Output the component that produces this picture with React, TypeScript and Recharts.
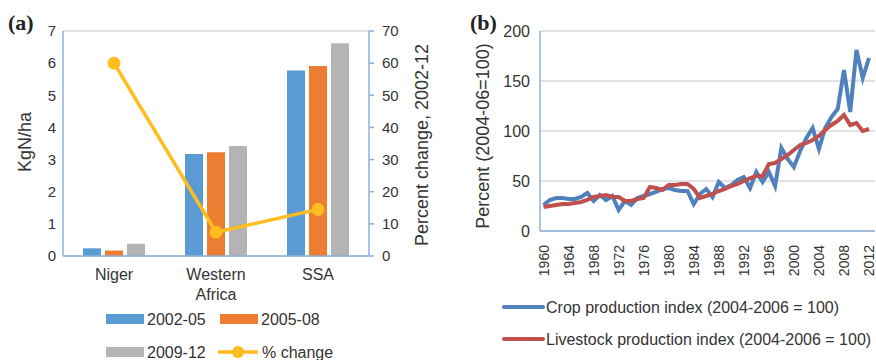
import {
  ComposedChart,
  LineChart,
  Bar,
  Line,
  XAxis,
  YAxis,
  CartesianGrid,
} from "recharts";

// Panel (a): fertilizer use, kg N per ha
const regions = ["Niger", "Western Africa", "SSA"];
const use0205 = [0.24, 3.17, 5.77];
const use0508 = [0.17, 3.23, 5.91];
const use0912 = [0.38, 3.42, 6.62];
const pctChange = [60, 7.4, 14.5];

// Panel (b): production indices, 2004-06 = 100
const years = [
  1960, 1961, 1962, 1963, 1964, 1965, 1966, 1967, 1968, 1969,
  1970, 1971, 1972, 1973, 1974, 1975, 1976, 1977, 1978, 1979,
  1980, 1981, 1982, 1983, 1984, 1985, 1986, 1987, 1988, 1989,
  1990, 1991, 1992, 1993, 1994, 1995, 1996, 1997, 1998, 1999,
  2000, 2001, 2002, 2003, 2004, 2005, 2006, 2007, 2008, 2009,
  2010, 2011, 2012,
];
const cropIndex = [
  26, 31, 33, 33, 32, 32, 34, 38, 30, 36,
  31, 35, 21, 30, 26, 33, 35, 37, 39, 42,
  43, 41, 40, 40, 27, 37, 42, 34, 49, 43,
  46, 51, 54, 43, 59, 49, 59, 45, 83, 72,
  64, 80, 93, 103, 82, 103, 114, 122, 161, 119,
  181, 153, 173,
];
const livestockIndex = [
  24, 25, 26, 27, 27, 28, 29, 31, 34, 35,
  36, 34, 34, 30, 30, 32, 33, 44, 43, 41,
  46, 46, 47, 47, 42, 33, 35, 37, 40, 42,
  45, 47, 50, 53, 55, 55, 67, 68, 72, 76,
  81, 86, 88, 91, 95, 101, 106, 110, 116, 106,
  108, 100, 102,
];
const yearTicks = [1960, 1964, 1968, 1972, 1976, 1980, 1984, 1988, 1992, 1996, 2000, 2004, 2008, 2012];

const barData = regions.map((name, i) => ({
  name,
  a: use0205[i],
  b: use0508[i],
  c: use0912[i],
  pct: pctChange[i],
}));

const lineData = years.map((year, i) => ({
  year,
  crop: cropIndex[i],
  livestock: livestockIndex[i],
}));

const FONT = "'Liberation Sans', Arial, Helvetica, sans-serif";
const TEXT = "#333";
const AXIS = "#8db0dc";
const GRID = "#d9d9d9";
const BLUE = "#5b9bd5";
const ORANGE = "#ed7d31";
const GRAY = "#b4b4b4";
const YELLOW = "#fdbd1c";
const CROP = "#4f81bd";
const LIVE = "#c0504d";

const CategoryTick = ({ x, y, payload }: any) => {
  const lines = String(payload.value).split(" ");
  return (
    <text x={x} y={y} textAnchor="middle" fontSize={16} fill={TEXT} fontFamily={FONT}>
      {lines.map((l: string, i: number) => (
        <tspan key={i} x={x} dy={i === 0 ? 22 : 20}>
          {l}
        </tspan>
      ))}
    </text>
  );
};

const YearTick = ({ x, y, payload }: any) => (
  <text
    x={x}
    y={y + 12}
    transform={`rotate(-90, ${x}, ${y + 12})`}
    textAnchor="end"
    dominantBaseline="central"
    fontSize={14}
    fill={TEXT}
    fontFamily={FONT}
  >
    {payload.value}
  </text>
);

const tickStyle = { fontSize: 15, fill: TEXT, fontFamily: FONT };

export default function App() {
  return (
    <div style={{ position: "absolute", left: 0, top: 0, width: 876, height: 360, background: "#fff", overflow: "hidden", fontFamily: FONT }}>
      {/* panel (a) */}
      <div style={{ position: "absolute", left: 0, top: 0 }}>
        <ComposedChart
          width={460}
          height={360}
          data={barData}
          margin={{ top: 31, right: 31, left: 0, bottom: 0 }}
        >
          <CartesianGrid vertical={false} stroke={GRID} strokeWidth={1.5} />
          <XAxis
            dataKey="name"
            height={104}
            axisLine={{ stroke: AXIS, strokeWidth: 1.5 }}
            tickLine={false}
            tickSize={0}
            tick={<CategoryTick />}
            interval={0}
          />
          <YAxis
            yAxisId="left"
            width={63}
            domain={[0, 7]}
            ticks={[0, 1, 2, 3, 4, 5, 6, 7]}
            axisLine={{ stroke: AXIS, strokeWidth: 1.5 }}
            tickLine={false}
            tickSize={0}
            tickMargin={7}
            tick={tickStyle}
          />
          <YAxis
            yAxisId="right"
            orientation="right"
            width={60}
            domain={[0, 70]}
            ticks={[0, 10, 20, 30, 40, 50, 60, 70]}
            axisLine={{ stroke: AXIS, strokeWidth: 1.5 }}
            tickLine={{ stroke: AXIS, strokeWidth: 1.5 }}
            tickSize={5}
            tickMargin={8}
            tick={tickStyle}
          />
          <Bar yAxisId="left" dataKey="a" fill={BLUE} barSize={18} isAnimationActive={false} />
          <Bar yAxisId="left" dataKey="b" fill={ORANGE} barSize={18} isAnimationActive={false} />
          <Bar yAxisId="left" dataKey="c" fill={GRAY} barSize={18} isAnimationActive={false} />
          <Line
            yAxisId="right"
            dataKey="pct"
            stroke={YELLOW}
            strokeWidth={3.5}
            dot={{ r: 6, fill: YELLOW, stroke: YELLOW, strokeWidth: 1 }}
            isAnimationActive={false}
          />
        </ComposedChart>
      </div>
      <svg width={876} height={360} style={{ position: "absolute", left: 0, top: 0, pointerEvents: "none" }}>
        <text x={8} y={30} fontFamily="'Liberation Serif', 'DejaVu Serif', serif" fontWeight="bold" fontSize={22} fill="#222">(a)</text>
        <text x={470} y={30} fontFamily="'Liberation Serif', 'DejaVu Serif', serif" fontWeight="bold" fontSize={22} fill="#222">(b)</text>
        <text x={25} y={142} transform="rotate(-90, 25, 142)" textAnchor="middle" dominantBaseline="central" fontSize={18} fill={TEXT} fontFamily={FONT}>KgN/ha</text>
        <text x={422} y={145} transform="rotate(-90, 422, 145)" textAnchor="middle" dominantBaseline="central" fontSize={18} fill={TEXT} fontFamily={FONT}>Percent change, 2002-12</text>
        <text x={483} y={136} transform="rotate(-90, 483, 136)" textAnchor="middle" dominantBaseline="central" fontSize={18} fill={TEXT} fontFamily={FONT}>Percent (2004-06=100)</text>
        {/* legend (a) */}
        <rect x={106} y={314} width={38} height={10} fill={BLUE} />
        <text x={147} y={325} fontSize={16} fill={TEXT} fontFamily={FONT}>2002-05</text>
        <rect x={220} y={314} width={38} height={10} fill={ORANGE} />
        <text x={261} y={325} fontSize={16} fill={TEXT} fontFamily={FONT}>2005-08</text>
        <rect x={106} y={347} width={38} height={10} fill={GRAY} />
        <text x={147} y={358} fontSize={16} fill={TEXT} fontFamily={FONT}>2009-12</text>
        <line x1={218} y1={352} x2={258} y2={352} stroke={YELLOW} strokeWidth={3.5} />
        <circle cx={238} cy={352} r={6} fill={YELLOW} />
        <text x={262} y={358} fontSize={16} fill={TEXT} fontFamily={FONT}>% change</text>
        {/* legend (b) */}
        <line x1={504} y1={307} x2={543} y2={307} stroke={CROP} strokeWidth={4} strokeLinecap="round" />
        <text x={546} y={313} fontSize={16} fill={TEXT} fontFamily={FONT}>Crop production index (2004-2006 = 100)</text>
        <line x1={504} y1={339} x2={543} y2={339} stroke={LIVE} strokeWidth={4} strokeLinecap="round" />
        <text x={546} y={345} fontSize={16} fill={TEXT} fontFamily={FONT}>Livestock production index (2004-2006 = 100)</text>
      </svg>
      {/* panel (b) */}
      <div style={{ position: "absolute", left: 460, top: 0 }}>
        <LineChart
          width={416}
          height={360}
          data={lineData}
          margin={{ top: 31, right: 1, left: 0, bottom: 0 }}
        >
          <CartesianGrid vertical={false} stroke={GRID} strokeWidth={1.5} />
          <XAxis
            dataKey="year"
            type="number"
            domain={[1959.44, 2012.96]}
            ticks={yearTicks}
            height={129}
            axisLine={{ stroke: AXIS, strokeWidth: 1.5 }}
            tickLine={false}
            tickSize={0}
            tick={<YearTick />}
            interval={0}
          />
          <YAxis
            width={80}
            domain={[0, 200]}
            ticks={[0, 50, 100, 150, 200]}
            axisLine={{ stroke: AXIS, strokeWidth: 1.5 }}
            tickLine={false}
            tickSize={0}
            tickMargin={10}
            tick={{ ...tickStyle, fontSize: 16 }}
          />
          <Line dataKey="crop" stroke={CROP} strokeWidth={4} dot={false} isAnimationActive={false} />
          <Line dataKey="livestock" stroke={LIVE} strokeWidth={4} dot={false} isAnimationActive={false} />
        </LineChart>
      </div>
    </div>
  );
}
